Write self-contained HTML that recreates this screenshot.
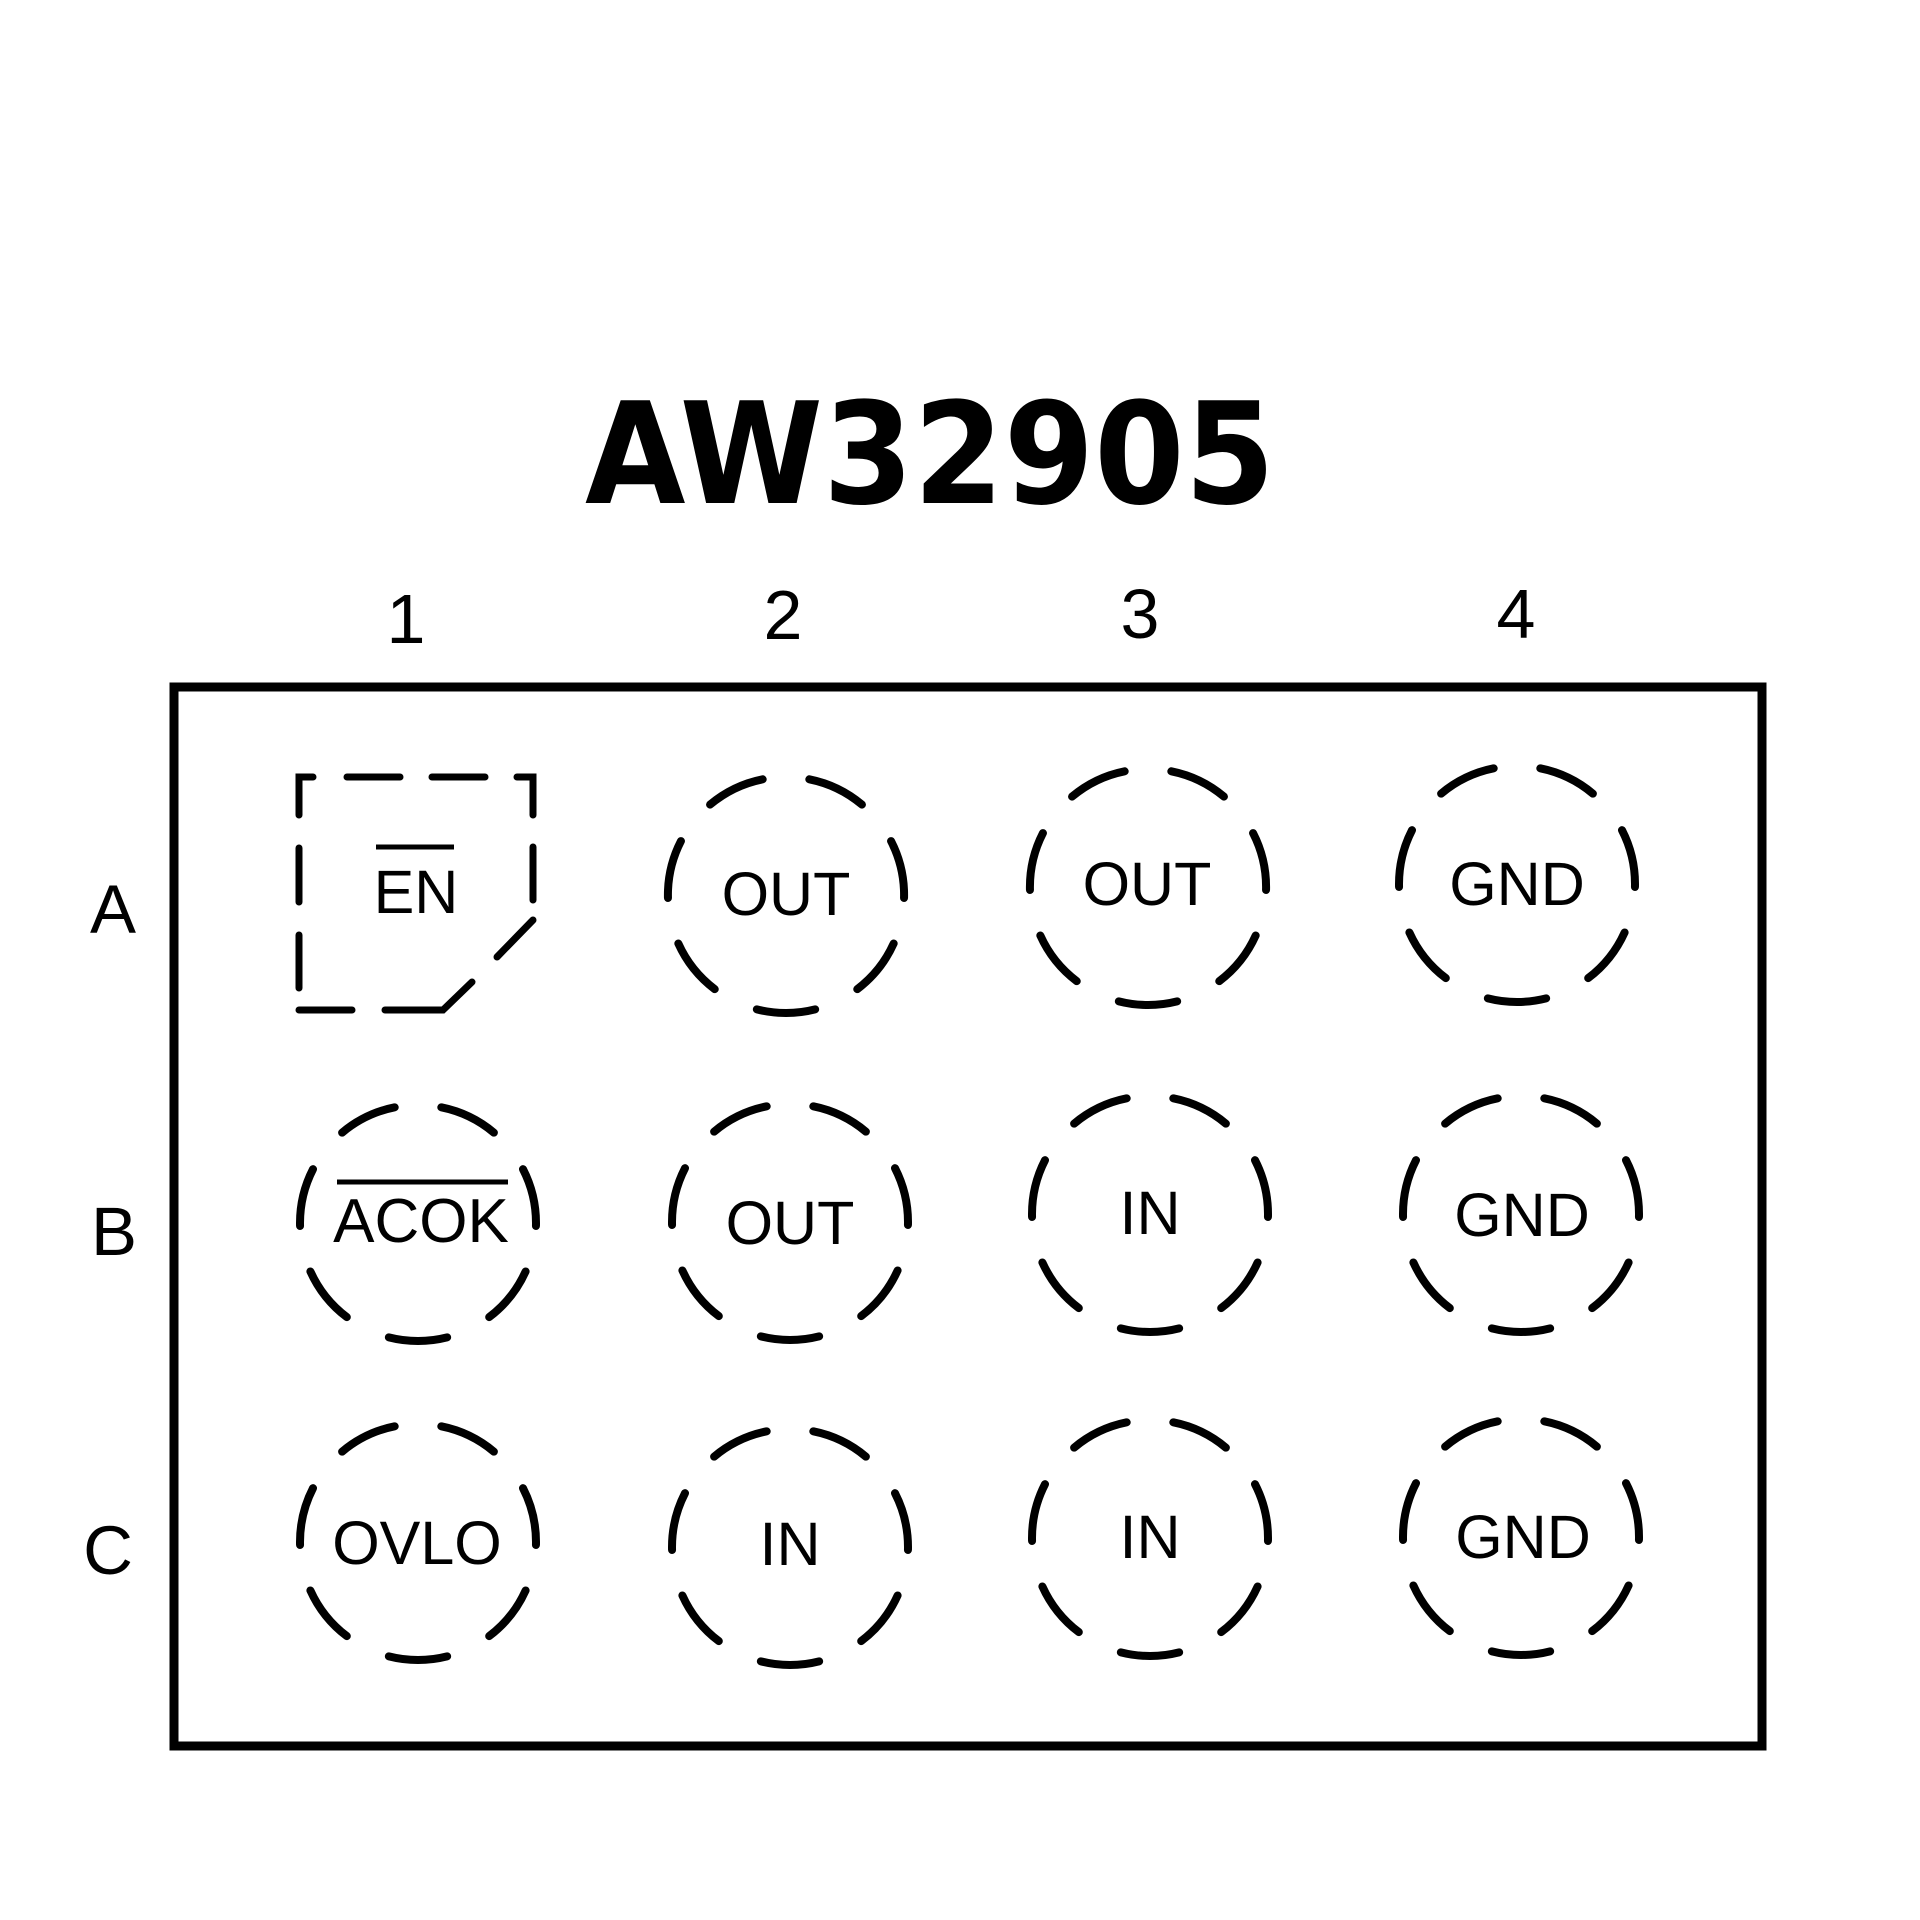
<!DOCTYPE html>
<html>
<head>
<meta charset="utf-8">
<style>
  html, body { margin: 0; padding: 0; background: #ffffff; }
  svg { display: block; }
  .lbl { font-family: "Liberation Sans", Arial, sans-serif; fill: #000; }
</style>
</head>
<body>
<svg xmlns="http://www.w3.org/2000/svg" width="1920" height="1920" viewBox="0 0 1920 1920">
  <rect x="0" y="0" width="1920" height="1920" fill="#ffffff"/>

  <!-- Title -->
  <text x="585" y="503" font-family="DejaVu Sans, Liberation Sans, sans-serif" font-weight="bold" font-size="141" textLength="690" lengthAdjust="spacingAndGlyphs" fill="#000">AW32905</text>

  <!-- Column numbers -->
  <g class="lbl" font-size="70" text-anchor="middle">
    <text x="406" y="643">1</text>
    <text x="783" y="639">2</text>
    <text x="1140" y="638">3</text>
    <text x="1516" y="638">4</text>
  </g>

  <!-- Row letters -->
  <g class="lbl" font-size="69" text-anchor="middle">
    <text x="113" y="933">A</text>
    <text x="114" y="1255">B</text>
    <text x="108" y="1574">C</text>
  </g>

  <!-- Package outline -->
  <rect x="174" y="687" width="1588" height="1059" fill="none" stroke="#000" stroke-width="9"/>

  <!-- EN pad (dashed square with cut corner) -->
  <g fill="none" stroke="#000" stroke-width="7" stroke-linecap="round" stroke-linejoin="miter">
    <polyline points="299,815 299,777 313,777"/>
    <line x1="347" y1="777" x2="400" y2="777"/>
    <line x1="432" y1="777" x2="485" y2="777"/>
    <polyline points="517,777 533,777 533,815"/>
    <line x1="533" y1="847" x2="533" y2="900"/>
    <line x1="533" y1="920" x2="497" y2="957"/>
    <polyline points="472,982 443,1010 385,1010"/>
    <line x1="299" y1="1010" x2="352" y2="1010"/>
    <line x1="299" y1="848" x2="299" y2="902"/>
    <line x1="299" y1="935" x2="299" y2="988"/>
  </g>

  <!-- Dashed circular pads -->
  <g fill="none" stroke="#000" stroke-width="8" stroke-linecap="round" stroke-dasharray="59 47" stroke-dashoffset="82.5">
    <path pathLength="742" d="M786,777 A118,118 0 1 1 786,1013 A118,118 0 1 1 786,777"/>
    <path pathLength="742" d="M1148,769 A118,118 0 1 1 1148,1005 A118,118 0 1 1 1148,769"/>
    <path pathLength="742" d="M1517,766 A118,118 0 1 1 1517,1002 A118,118 0 1 1 1517,766"/>

    <path pathLength="742" d="M418,1105 A118,118 0 1 1 418,1341 A118,118 0 1 1 418,1105"/>
    <path pathLength="742" d="M790,1104 A118,118 0 1 1 790,1340 A118,118 0 1 1 790,1104"/>
    <path pathLength="742" d="M1150,1096 A118,118 0 1 1 1150,1332 A118,118 0 1 1 1150,1096"/>
    <path pathLength="742" d="M1521,1096 A118,118 0 1 1 1521,1332 A118,118 0 1 1 1521,1096"/>

    <path pathLength="742" d="M418,1424 A118,118 0 1 1 418,1660 A118,118 0 1 1 418,1424"/>
    <path pathLength="742" d="M790,1429 A118,118 0 1 1 790,1665 A118,118 0 1 1 790,1429"/>
    <path pathLength="742" d="M1150,1420 A118,118 0 1 1 1150,1656 A118,118 0 1 1 1150,1420"/>
    <path pathLength="742" d="M1521,1419 A118,118 0 1 1 1521,1655 A118,118 0 1 1 1521,1419"/>
  </g>

  <!-- Pin labels -->
  <g class="lbl" font-size="61" text-anchor="middle">
    <text x="416" y="913">EN</text>
    <text x="786" y="915">OUT</text>
    <text x="1147" y="905">OUT</text>
    <text x="1517" y="905">GND</text>

    <text x="421" y="1242" font-size="62">ACOK</text>
    <text x="790" y="1244">OUT</text>
    <text x="1150" y="1234">IN</text>
    <text x="1522" y="1236">GND</text>

    <text x="417" y="1564">OVLO</text>
    <text x="790" y="1565">IN</text>
    <text x="1150" y="1558">IN</text>
    <text x="1523" y="1558">GND</text>
  </g>

  <!-- Overlines (active-low signals) -->
  <line x1="376" y1="847" x2="454" y2="847" stroke="#000" stroke-width="5"/>
  <line x1="337" y1="1182" x2="508" y2="1182" stroke="#000" stroke-width="5"/>
</svg>
</body>
</html>
